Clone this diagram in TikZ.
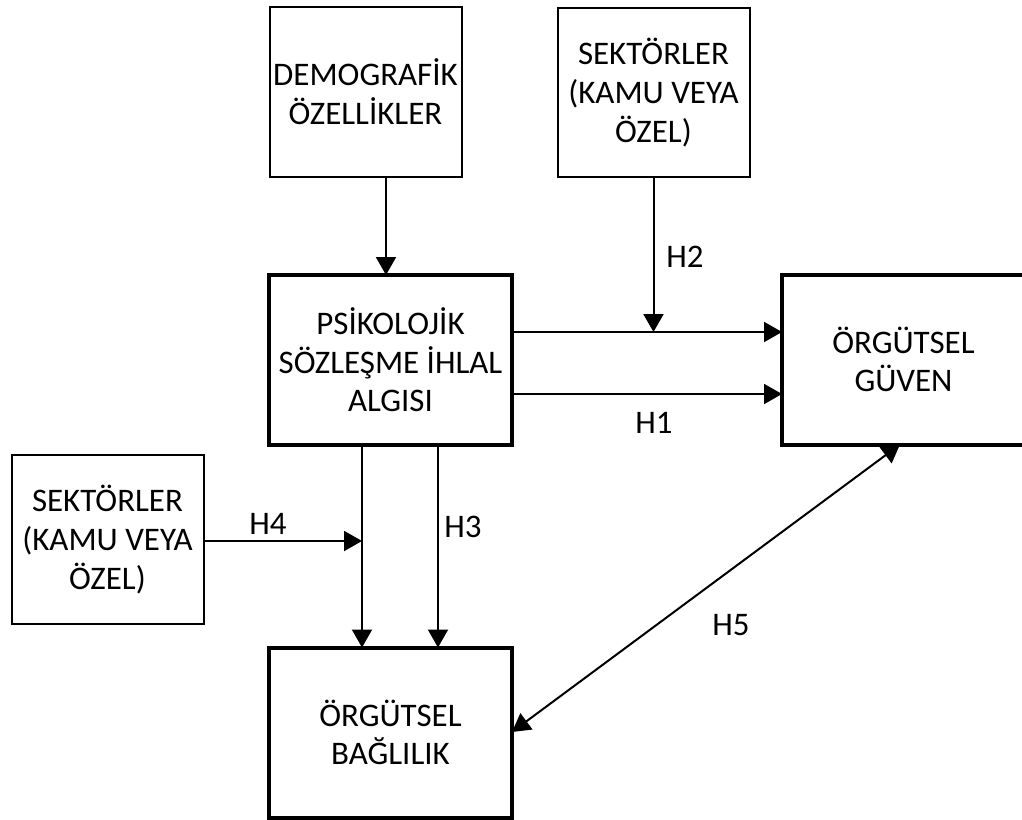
\documentclass[tikz,border=0pt]{standalone}
\usepackage{fontspec}
\setmainfont{Carlito}
\usetikzlibrary{arrows.meta,calc}
\begin{document}
\begin{tikzpicture}[x=0.75pt,y=-0.75pt,
  box/.style={draw, inner sep=0pt, outer sep=0pt, align=center, font=\fontsize{24.7}{29}\selectfont},
  thinbox/.style={box, line width=1.5pt, minimum width=144pt, minimum height=127pt},
  thickbox/.style={box, line width=3pt, minimum width=182.25pt, minimum height=127.5pt},
  arr/.style={line width=1.5pt, -{Triangle[length=13.5pt,width=15pt]}},
  darr/.style={line width=1.5pt, {Triangle[length=13.5pt,width=15pt]}-{Triangle[length=13.5pt,width=15pt]}},
  lbl/.style={font=\fontsize{24.7}{29}\selectfont, inner sep=0pt}]
\useasboundingbox (0,0) rectangle (1022,819);
\clip (0,0) rectangle (1022,819);
\fill[white] (0,0) rectangle (1022,819);

\node[thinbox] (dem) at (365.5,92) {DEMOGRAFİK\\ÖZELLİKLER};
\node[thinbox] (sek1) at (653.5,92.5) {SEKTÖRLER\\(KAMU VEYA\\ÖZEL)};
\node[thickbox] (psk) at (390.5,360) {PSİKOLOJİK\\SÖZLEŞME İHLAL\\ALGISI};
\node[thickbox] (guv) at (903.5,359.5) {ÖRGÜTSEL\\GÜVEN};
\node[thinbox] (sek2) at (107.5,539.5) {SEKTÖRLER\\(KAMU VEYA\\ÖZEL)};
\node[thickbox] (bag) at (390.5,732.5) {ÖRGÜTSEL\\BAĞLILIK};

\coordinate (r1) at (0,332);
\coordinate (r2) at (0,394);
\coordinate (c1) at (362,0);
\coordinate (c2) at (438,0);
\coordinate (dx) at (386,0);
\coordinate (h2) at (653.5,332);
\coordinate (h4) at (362,541);
\coordinate (x5) at (900,0);
\coordinate (y5) at (0,732);

\draw[arr] (dem.south -| dx) -- (psk.north -| dx);
\draw[arr] (sek1.south) -- (h2);
\draw[arr] (psk.east |- r1) -- (guv.west |- r1);
\draw[arr] (psk.east |- r2) -- (guv.west |- r2);
\draw[arr] (psk.south -| c1) -- (bag.north -| c1);
\draw[arr] (psk.south -| c2) -- (bag.north -| c2);
\draw[arr] (sek2.east |- h4) -- (h4);
\draw[darr] (bag.east |- y5) -- (guv.south -| x5);

\node[lbl] (l1) at (654,423) {H1};
\node[lbl] (l2) at (685,257) {H2};
\node[lbl] (l3) at (463,527) {H3};
\node[lbl] (l4) at (268,524) {H4};
\node[lbl] (l5) at (731,625) {H5};
\end{tikzpicture}
\end{document}
